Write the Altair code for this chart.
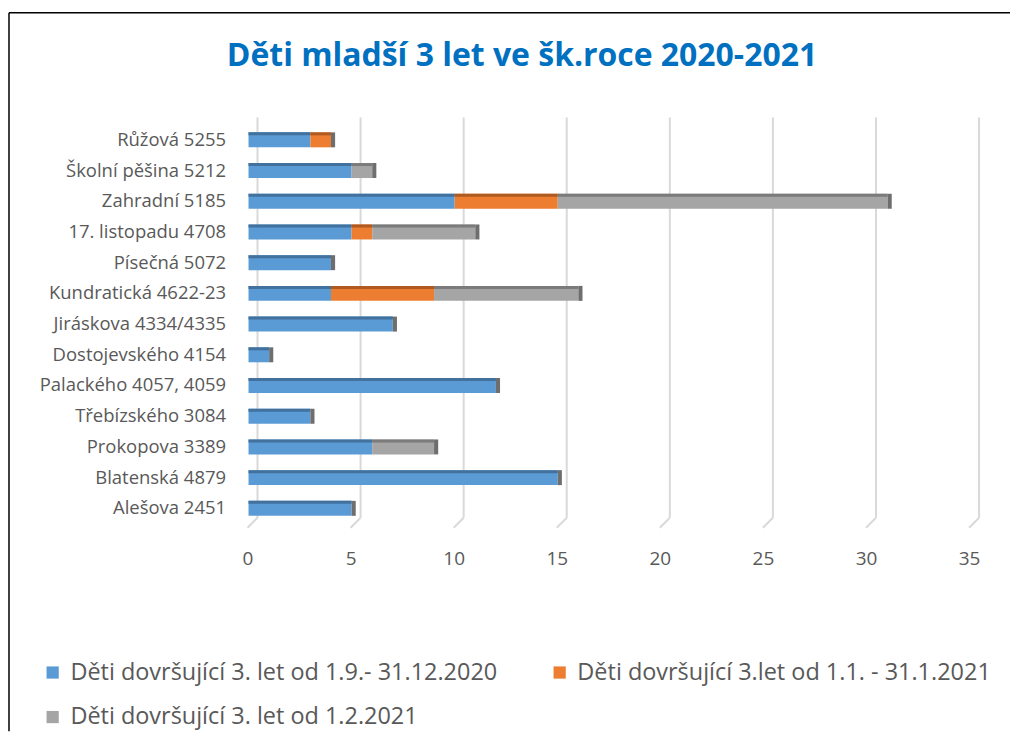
import altair as alt
import pandas as pd

categories = ["Růžová 5255", "Školní pěšina 5212", "Zahradní 5185", "17. listopadu 4708",
              "Písečná 5072", "Kundratická 4622-23", "Jiráskova 4334/4335", "Dostojevského 4154",
              "Palackého 4057, 4059", "Třebízského 3084", "Prokopova 3389", "Blatenská 4879",
              "Alešova 2451"]
series = ["Děti dovršující 3. let od 1.9.- 31.12.2020",
          "Děti dovršující 3.let od 1.1. - 31.1.2021",
          "Děti dovršující 3. let od 1.2.2021"]
s1 = [3, 5, 10, 5, 4, 4, 7, 1, 12, 3, 6, 15, 5]
s2 = [1, 0, 5, 1, 0, 5, 0, 0, 0, 0, 0, 0, 0]
s3 = [0, 1, 16, 5, 0, 7, 0, 0, 0, 0, 3, 0, 0]
colors = ["#5B9BD5", "#ED7D31", "#A5A5A5"]
dark = ["#41719C", "#AE5A21", "#7B7B7B"]
title_text = "Děti mladší 3 let ve šk.roce 2020-2021"
ticks = [0, 5, 10, 15, 20, 25, 30, 35]

rows = []
for vals_i, vals in enumerate([s1, s2, s3]):
    for c, v in zip(categories, vals):
        if v > 0:
            rows.append({"cat": c, "series": series[vals_i], "ord": vals_i,
                         "v": v, "dark": dark[vals_i]})
df = pd.DataFrame(rows)

W, H = 723, 400
xscale = alt.Scale(domain=[0, 35], nice=False)
yenc = alt.Y("cat:N", sort=categories, title=None,
             axis=alt.Axis(labelFontSize=18.5, labelColor="#595959", labelFont="Open Sans",
                           domain=False, ticks=False, labelPadding=23, grid=False,
                           labelLimit=400))

base = alt.Chart(df)

grid_df = pd.DataFrame({"g": ticks})
grid = alt.Chart(grid_df).mark_rule(color="#D9D9D9", strokeWidth=2, xOffset=9).encode(
    x=alt.X("g:Q", scale=xscale), y=alt.value(-7), y2=alt.value(394))
slant = alt.Chart(grid_df).mark_rule(color="#D9D9D9", strokeWidth=2, xOffset=9, x2Offset=-1).encode(
    x=alt.X("g:Q", scale=xscale), x2="g:Q", y=alt.value(394), y2=alt.value(404))

bars = base.mark_bar(size=15).encode(
    x=alt.X("v:Q", stack="zero", scale=xscale, title=None,
            axis=alt.Axis(values=ticks, labelFontSize=19, labelColor="#595959",
                          labelFont="Open Sans", domain=False, ticks=False, grid=False,
                          labelPadding=26, labelFlush=False, labelOffset=-1)),
    y=yenc,
    color=alt.Color("series:N", sort=series,
                    scale=alt.Scale(domain=series, range=colors),
                    legend=alt.Legend(title=None, orient="none", legendX=-208, legendY=537,
                                      direction="horizontal",
                                      columns=2, columnPadding=50, rowPadding=20,
                                      symbolType="square", symbolSize=150,
                                      symbolStrokeWidth=0, labelFontSize=23.5,
                                      labelFont="Open Sans", labelColor="#595959",
                                      labelLimit=700, labelOffset=6)),
    order=alt.Order("ord:Q"),
)

strip = base.mark_bar(size=3, yOffset=-6).encode(
    x=alt.X("v:Q", stack="zero", scale=xscale),
    y=alt.Y("cat:N", sort=categories),
    color=alt.Color("dark:N", scale=None),
    order=alt.Order("ord:Q"),
)

cap = base.transform_aggregate(total="sum(v)", groupby=["cat"]).transform_calculate(
    end="datum.total + 0.2").mark_bar(size=15, color="#6E6E6E").encode(
    x=alt.X("total:Q", scale=xscale), x2="end:Q",
    y=alt.Y("cat:N", sort=categories))

tdf = pd.DataFrame({"t": [title_text]})
title = alt.Chart(tdf).mark_text(fontSize=32, fontWeight="bold", color="#0070C0",
                                 font="Open Sans", align="center", baseline="middle").encode(
    text="t:N", x=alt.value(274), y=alt.value(-69))

bdf = pd.DataFrame({"b": [0]})
border_top = alt.Chart(bdf).mark_rule(color="#000000", strokeWidth=1.5).encode(
    x=alt.value(-240), x2=alt.value(763), y=alt.value(-112), y2=alt.value(-112))
border_left = alt.Chart(bdf).mark_rule(color="#000000", strokeWidth=1.5).encode(
    x=alt.value(-240), x2=alt.value(-240), y=alt.value(-112), y2=alt.value(608))

chart = alt.layer(grid, slant, bars, strip, cap, title, border_top, border_left).properties(
    width=W, height=H, padding={"left": 0, "top": 3, "right": 0, "bottom": 0}
).configure_view(stroke=None)

chart.save("out.html", embed_options={"renderer": "svg", "actions": False})
